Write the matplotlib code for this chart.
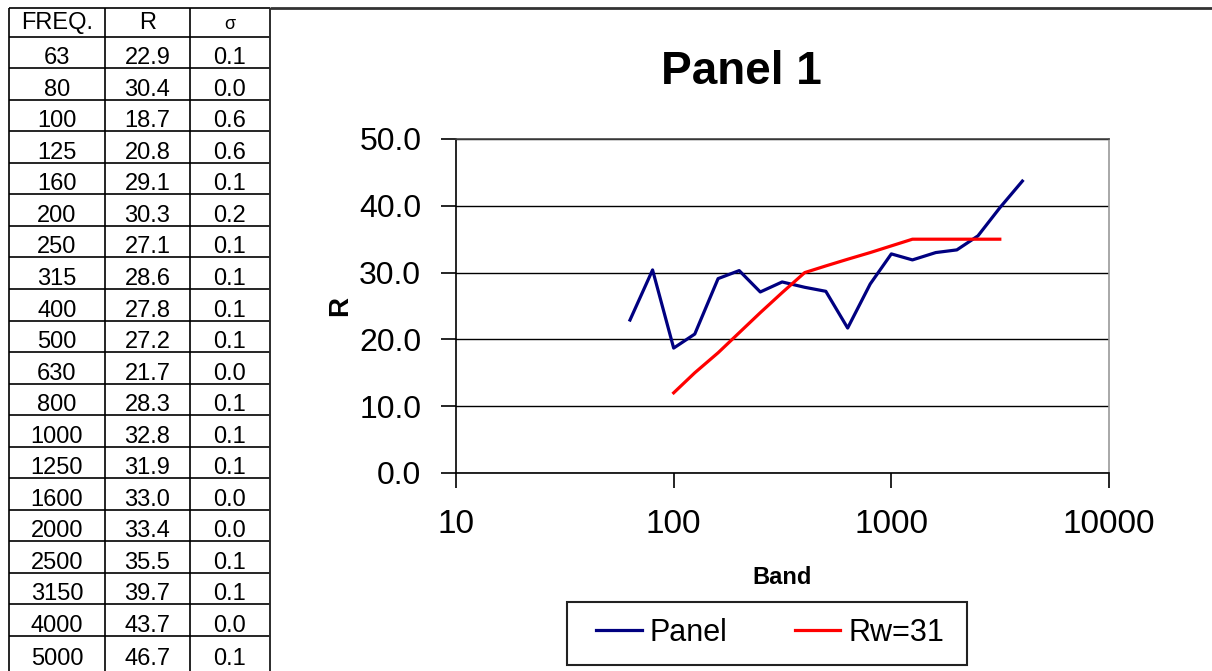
import matplotlib
matplotlib.use("Agg")
import matplotlib.pyplot as plt
from matplotlib.lines import Line2D
from matplotlib.patches import Rectangle
from matplotlib.ticker import FixedLocator, FixedFormatter, NullLocator, FormatStrFormatter

# Measured sound reduction per one-third-octave band
freq = [63, 80, 100, 125, 160, 200, 250, 315, 400, 500, 630, 800,
        1000, 1250, 1600, 2000, 2500, 3150, 4000, 5000]
r_values = [22.9, 30.4, 18.7, 20.8, 29.1, 30.3, 27.1, 28.6, 27.8, 27.2, 21.7, 28.3,
            32.8, 31.9, 33.0, 33.4, 35.5, 39.7, 43.7, 46.7]
sigma = [0.1, 0.0, 0.6, 0.6, 0.1, 0.2, 0.1, 0.1, 0.1, 0.1, 0.0, 0.1,
         0.1, 0.1, 0.0, 0.0, 0.1, 0.1, 0.0, 0.1]

# Frequencies plotted for the panel curve (63 Hz .. 4000 Hz)
plot_count = 19

# Shifted reference curve for Rw = 31
ref_freq = [100, 125, 160, 200, 250, 315, 400, 500, 630, 800,
            1000, 1250, 1600, 2000, 2500, 3150]
ref_values = [12, 15, 18, 21, 24, 27, 30, 31, 32, 33, 34, 35, 35, 35, 35, 35]

table_header = ["FREQ.", "R", "\u03c3"]
x_tick_values = [10, 100, 1000, 10000]
x_tick_labels = ["10", "100", "1000", "10000"]
y_tick_values = [0, 10, 20, 30, 40, 50]

W, H = 1212, 671
plt.rcParams["font.family"] = ["Liberation Sans", "DejaVu Sans"]
fig = plt.figure(figsize=(W / 100, H / 100), dpi=100)
fig.patch.set_facecolor("white")


def fx(x):
    return x / W


def fy(y):
    return 1 - y / H


def hline(x0, x1, y, lw=1.0, color="black"):
    fig.add_artist(Line2D([fx(x0), fx(x1)], [fy(y), fy(y)], transform=fig.transFigure,
                          color=color, lw=lw, solid_capstyle="butt"))


def vline(x, y0, y1, lw=1.0, color="black"):
    fig.add_artist(Line2D([fx(x), fx(x)], [fy(y0), fy(y1)], transform=fig.transFigure,
                          color=color, lw=lw, solid_capstyle="butt"))


# ---- data table on the left ----
col_edges = [9, 105, 190, 270]
col_centers = [(col_edges[i] + col_edges[i + 1]) / 2 for i in range(3)]
table_top = 8
header_bottom = 36.7
row_h = 31.54
n_rows = len(freq)
row_lines = [table_top, header_bottom] + [header_bottom + row_h * (i + 1) for i in range(n_rows - 1)]
for y in row_lines:
    hline(col_edges[0], col_edges[-1], y, lw=1.2)
for x in col_edges:
    vline(x, table_top, H + 5, lw=1.2)

for j, txt in enumerate(table_header):
    fs = 17 if j < 2 else 13
    fig.text(fx(col_centers[j]), fy(header_bottom - 8.0), txt, ha="center", va="baseline",
             fontsize=fs, color="black")

for i in range(n_rows):
    bottom = header_bottom + row_h * (i + 1)
    base = bottom - 4.0 if i < n_rows - 1 else 665
    cells = [f"{freq[i]}", f"{r_values[i]:.1f}", f"{sigma[i]:.1f}"]
    for j, txt in enumerate(cells):
        fig.text(fx(col_centers[j]), fy(base), txt, ha="center", va="baseline",
                 fontsize=17, color="black")

# ---- chart frame ----
hline(270, W + 5, 7.5, lw=2.0, color="#333333")
vline(270, 7.5, H + 5, lw=1.2, color="#333333")

# ---- chart ----
ax_left, ax_right, ax_top, ax_bottom = 456, 1109, 139, 473
ax = fig.add_axes([fx(ax_left), fy(ax_bottom), fx(ax_right - ax_left), (ax_bottom - ax_top) / H])
ax.set_xscale("log")
ax.set_xlim(10, 10000)
ax.set_ylim(0, 50)

ax.plot(freq[:plot_count], r_values[:plot_count], color="#000080", lw=2.3,
        solid_joinstyle="round", label="Panel", zorder=3)
ax.plot(ref_freq, ref_values, color="#FF0000", lw=2.3, label="Rw=31", zorder=3)

ax.xaxis.set_major_locator(FixedLocator(x_tick_values))
ax.xaxis.set_major_formatter(FixedFormatter(x_tick_labels))
ax.xaxis.set_minor_locator(NullLocator())
ax.yaxis.set_major_locator(FixedLocator(y_tick_values))
ax.yaxis.set_major_formatter(FormatStrFormatter("%.1f"))

ax.grid(axis="y", color="black", lw=1.0)
ax.set_axisbelow(True)
for side in ["left", "bottom"]:
    ax.spines[side].set_color("black")
    ax.spines[side].set_linewidth(1.2)
ax.spines["top"].set_color("#444444")
ax.spines["top"].set_linewidth(1.2)
ax.spines["right"].set_color("#999999")
ax.spines["right"].set_linewidth(1.2)

ax.tick_params(axis="x", direction="out", length=11, width=1.2, pad=15, labelsize=24)
ax.tick_params(axis="y", direction="out", length=11, width=1.2, pad=14, labelsize=23)

fig.text(fx(741), fy(72), "Panel 1", ha="center", va="center", fontsize=33, fontweight="bold")
fig.text(fx(340), fy(306), "R", ha="center", va="center", rotation=90, fontsize=20,
         fontweight="bold")
fig.text(fx(782), fy(577), "Band", ha="center", va="center", fontsize=17, fontweight="bold")

# legend box
fig.add_artist(Rectangle((fx(567), fy(665)), fx(967 - 567), (665 - 602) / H,
                         transform=fig.transFigure, facecolor="white",
                         edgecolor="#222222", lw=1.5))
handles, labels = ax.get_legend_handles_labels()
fig.legend(handles, labels, loc="center", bbox_to_anchor=(fx(770), fy(633)), ncol=2,
           frameon=False, fontsize=22, handlelength=1.5, handletextpad=0.25,
           columnspacing=2.2)

fig.savefig("out.png", dpi=100, facecolor="white")
